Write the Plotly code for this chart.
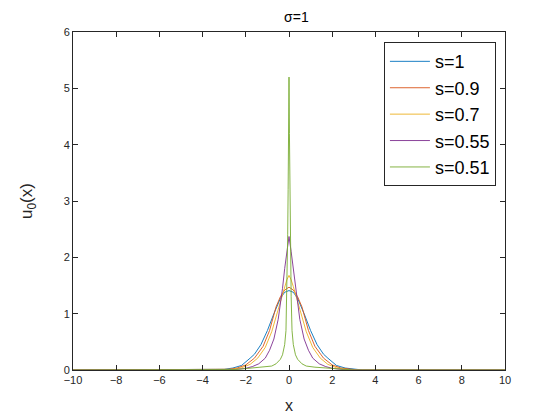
import plotly.graph_objects as go

# half profiles (x >= 0); curves are symmetric about x = 0
x_s1 = [0, 0.2, 0.4, 0.7, 1.0, 1.3, 1.6, 1.8, 2.2, 2.6, 3.0, 3.4, 10]
u_s1 = [1.41, 1.38, 1.27, 1.0, 0.7, 0.45, 0.28, 0.21, 0.08, 0.035, 0.012, 0.0, 0.0]

x_s09 = [0, 0.2, 0.4, 0.6, 0.9, 1.2, 1.6, 2.0, 2.4, 2.8, 3.2, 10]
u_s09 = [1.47, 1.42, 1.30, 1.12, 0.7, 0.42, 0.21, 0.09, 0.035, 0.012, 0.0, 0.0]

x_s07 = [0, 0.1, 0.2, 0.3, 0.5, 0.8, 1.1, 1.45, 1.8, 2.2, 2.6, 3.0, 10]
u_s07 = [1.68, 1.6, 1.48, 1.35, 1.08, 0.68, 0.4, 0.21, 0.1, 0.04, 0.012, 0.0, 0.0]

x_s055 = [0, 0.1, 0.2, 0.3, 0.4, 0.5, 0.7, 0.9, 1.1, 1.4, 1.7, 2.0, 2.5, 3.0, 10]
u_s055 = [2.37, 2.1, 1.8, 1.45, 1.15, 0.9, 0.55, 0.35, 0.21, 0.11, 0.06, 0.03, 0.008, 0.0, 0.0]

x_s051 = [0, 0.02, 0.04, 0.06, 0.08, 0.1, 0.14, 0.2, 0.3, 0.4, 0.6, 0.8, 1.2, 1.6, 2.0, 2.5, 3.0, 10]
u_s051 = [5.2, 4.2, 3.2, 2.4, 1.8, 1.3, 0.7, 0.45, 0.27, 0.19, 0.11, 0.07, 0.05, 0.04, 0.025, 0.008, 0.0, 0.0]

labels = ["s=1", "s=0.9", "s=0.7", "s=0.55", "s=0.51"]
colors = ["#0072BD", "#D95319", "#EDB120", "#7E2F8E", "#77AC30"]
halves = [(x_s1, u_s1), (x_s09, u_s09), (x_s07, u_s07), (x_s055, u_s055), (x_s051, u_s051)]

fig = go.Figure()
for (xh, uh), name, c in zip(halves, labels, colors):
    # mirror the half profile to get the full symmetric curve
    xs = [-v for v in xh[::-1]] + xh[1:]
    us = uh[::-1] + uh[1:]
    fig.add_trace(go.Scatter(x=xs, y=us, mode="lines", name=name,
                             line=dict(color=c, width=0.9)))

axis_style = dict(showline=True, linecolor="#262626", linewidth=1, mirror="ticks",
                  ticks="inside", ticklen=5, tickcolor="#262626", showgrid=False,
                  zeroline=False, tickfont=dict(family="Arial, Liberation Sans", size=11, color="#262626"))

fig.update_xaxes(range=[-10, 10], dtick=2, title_text="x",
                 title_font=dict(family="Arial, Liberation Sans", size=16, color="#262626"),
                 title_standoff=14, **axis_style)
fig.update_yaxes(range=[0, 6], dtick=1, title_text="u<sub>0</sub>(x)",
                 title_font=dict(family="Arial, Liberation Sans", size=17, color="#262626"),
                 title_standoff=26, **axis_style)

# the page body adds an 8 px offset, so margins are shifted to keep the plot box at 73..505 / 32..370
fig.update_layout(
    width=560, height=420,
    margin=dict(l=65, r=63, t=24, b=58),
    paper_bgcolor="white", plot_bgcolor="white",
    title=dict(text="\u03c3=1", x=0.515, xanchor="center", y=0.99, yanchor="top",
               font=dict(family="Arial, Liberation Sans", size=14, color="black")),
    legend=dict(x=0.979, y=0.97, xanchor="right", yanchor="top",
                bordercolor="#262626", borderwidth=1, bgcolor="white",
                font=dict(family="Arial, Liberation Sans", size=18, color="black"),
                itemwidth=40, tracegroupgap=0),
    showlegend=True,
)

fig.write_html("out.html")
